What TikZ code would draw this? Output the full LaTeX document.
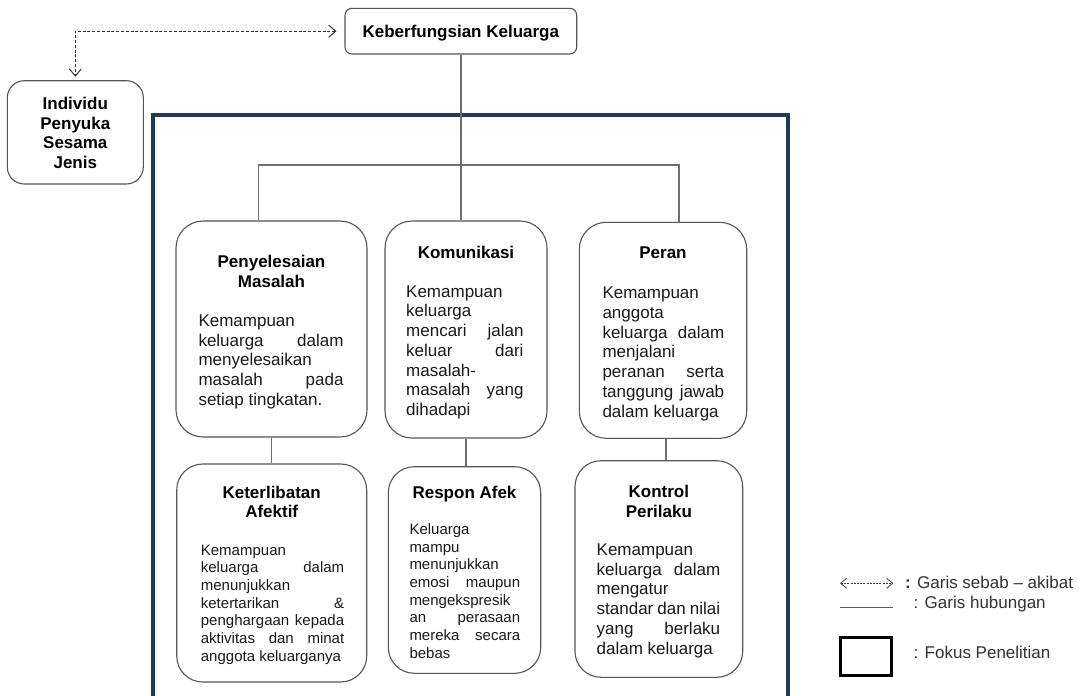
\documentclass[tikz,border=0pt]{standalone}
\usepackage{fontspec}
\setmainfont{Liberation Sans}
\usetikzlibrary{arrows.meta}
\definecolor{framecol}{RGB}{33,58,88}
\definecolor{boxline}{RGB}{85,85,85}
\definecolor{conncol}{RGB}{110,110,110}
\definecolor{txt}{RGB}{25,25,25}
\definecolor{legtxt}{RGB}{50,50,50}
\newcommand\fsz[2]{\fontsize{#1}{#2}\selectfont}
\newcommand\ctitle[2]{\vtop{\bfseries\fsz{17}{#1}\halign{\hfil##\hfil\cr#2\crcr}}}
\newcommand\lbody[2]{\vtop{#1\halign{##\hfil\cr#2\crcr}}}
\newcommand\jl[2]{\hbox to #1{#2}}
\begin{document}
\begin{tikzpicture}[x=1pt,y=-1pt,
  rbox/.style={draw=boxline, line width=1.1pt, rounded corners=#1, fill=white, inner sep=0pt},
  conn/.style={draw=conncol, line width=1.4pt},
  causal/.style={draw=black!80, line width=0.9pt, dash pattern=on 3pt off 1.8pt,
     {Straight Barb[length=7pt,width=12pt,line width=1pt]}-{Straight Barb[length=7pt,width=12pt,line width=1pt]}},
  ttl/.style={anchor=base, inner sep=0pt, text=black},
  bdy/.style={anchor=base west, inner sep=0pt, text=txt},
  leg/.style={anchor=base west, inner sep=0pt, text=legtxt, font=\fsz{17}{20}}]
\useasboundingbox (0,0) rectangle (1090,696);
\fill[white] (0,0) rectangle (1090,696);

% focus frame
\draw[draw=framecol, line width=4pt] (153.3,700) -- (153.3,115) -- (788.3,115) -- (788.3,700);

% top boxes
\node[rbox=7, minimum width=231.7, minimum height=45.7] (kb) at (460.85,31.15) {};
\node[ttl] (kbt) at (460.85,37) {\bfseries\fsz{17}{20}Keberfungsian Keluarga};
\node[rbox=17, minimum width=136, minimum height=103.3] (ind) at (75.3,132.35) {};
\node[ttl] (indt) at (75.3,109.5) {\ctitle{19.7}{Individu\cr Penyuka\cr Sesama\cr Jenis}};

% aspect boxes
\node[rbox=27, minimum width=191, minimum height=216] (pen) at (271.5,329) {};
\node[rbox=27, minimum width=162, minimum height=217] (kom) at (466,329.5) {};
\node[rbox=27, minimum width=167.4, minimum height=216] (per) at (663,330.3) {};
\node[rbox=26, minimum width=190, minimum height=218] (ket) at (271.7,573) {};
\node[rbox=26, minimum width=152.4, minimum height=206.6] (res) at (464.5,570) {};
\node[rbox=26, minimum width=167.7, minimum height=216.6] (kon) at (658.85,569) {};

% titles
\node[ttl] (pent) at (271.5,267.2) {\ctitle{20}{Penyelesaian\cr Masalah}};
\node[ttl] (komt) at (466,258.8) {\ctitle{20}{Komunikasi}};
\node[ttl] (pert) at (663,258.8) {\ctitle{20}{Peran}};
\node[ttl] (kett) at (271.7,498.8) {\ctitle{18.6}{Keterlibatan\cr Afektif}};
\node[ttl] (rest) at (464.5,498.2) {\ctitle{20}{Respon Afek}};
\node[ttl] (kont) at (658.85,497.2) {\ctitle{20}{Kontrol\cr Perilaku}};

% bodies
\node[bdy] (penb) at (198.3,326.5) {\lbody{\fsz{17}{19.7}}{Kemampuan\cr
  \jl{145pt}{keluarga dalam}\cr menyelesaikan\cr \jl{145pt}{masalah pada}\cr setiap tingkatan.}};
\node[bdy] (komb) at (406,297.2) {\lbody{\fsz{17}{19.7}}{Kemampuan\cr keluarga\cr
  \jl{117.3pt}{mencari jalan}\cr \jl{117.3pt}{keluar dari}\cr masalah-\cr \jl{117.3pt}{masalah yang}\cr dihadapi}};
\node[bdy] (perb) at (602.3,298.8) {\lbody{\fsz{17}{19.7}}{Kemampuan\cr anggota\cr
  \jl{121.7pt}{keluarga dalam}\cr menjalani\cr \jl{121.7pt}{peranan serta}\cr \jl{121.7pt}{tanggung jawab}\cr dalam keluarga}};
\node[bdy] (ketb) at (200.7,555) {\lbody{\fsz{15}{17.7}}{Kemampuan\cr
  \jl{143.3pt}{keluarga dalam}\cr menunjukkan\cr \jl{143.3pt}{ketertarikan \&}\cr
  \jl{143.3pt}{penghargaan kepada}\cr \jl{143.3pt}{aktivitas dan minat}\cr anggota keluarganya}};
\node[bdy] (resb) at (409.3,534.3) {\lbody{\fsz{15}{17.7}}{Keluarga\cr mampu\cr menunjukkan\cr
  \jl{110.7pt}{emosi maupun}\cr mengekspresik\cr \jl{110.7pt}{an perasaan}\cr \jl{110.7pt}{mereka secara}\cr bebas}};
\node[bdy] (konb) at (596.5,555.5) {\lbody{\fsz{17}{19.7}}{Kemampuan\cr
  \jl{123.5pt}{keluarga dalam}\cr mengatur\cr \jl{123.5pt}{standar dan nilai}\cr \jl{123.5pt}{yang berlaku}\cr dalam keluarga}};

% connectors
\coordinate (hl) at (258.3,165);
\coordinate (hr) at (679,165);
\draw[conn] (kb.south) -- (kb.south |- kom.north);
\draw[conn] (hl |- pen.north) -- (hl) -- (hr) -- (hr |- per.north);
\draw[conn] (pen.south) -- (pen.south |- ket.north);
\draw[conn] (kom.south) -- (kom.south |- res.north);
\draw[conn] ([xshift=3pt]per.south) -- ([xshift=3pt]per.south |- kon.north);

% cause-effect dashed arrow
\draw[causal, shorten <=8pt, shorten >=3.5pt] (kb.west) -| (ind.north);

% legend
\coordinate (la1) at (840,583.3);
\coordinate (la2) at (893.3,583.3);
\draw[draw=black!75, line width=0.8pt, dash pattern=on 2pt off 1.2pt,
  {Straight Barb[length=6pt,width=10pt,line width=0.8pt]}-{Straight Barb[length=6pt,width=10pt,line width=0.8pt]}] (la1) -- (la2);
\node[leg] (l1) at (905,588.5) {\textbf{:} Garis sebab – akibat};
\coordinate (lb1) at (840,607.3);
\coordinate (lb2) at (893.3,607.3);
\draw[draw=black!65, line width=1pt] (lb1) -- (lb2);
\node[leg] (l2) at (913.5,608.5) {: Garis hubungan};
\node[draw=black, line width=3.2pt, minimum width=51, minimum height=37.5, inner sep=0pt] (lgbox) at (866.3,656.35) {};
\node[leg] (l3) at (913.5,658.5) {: Fokus Penelitian};
\end{tikzpicture}
\end{document}
